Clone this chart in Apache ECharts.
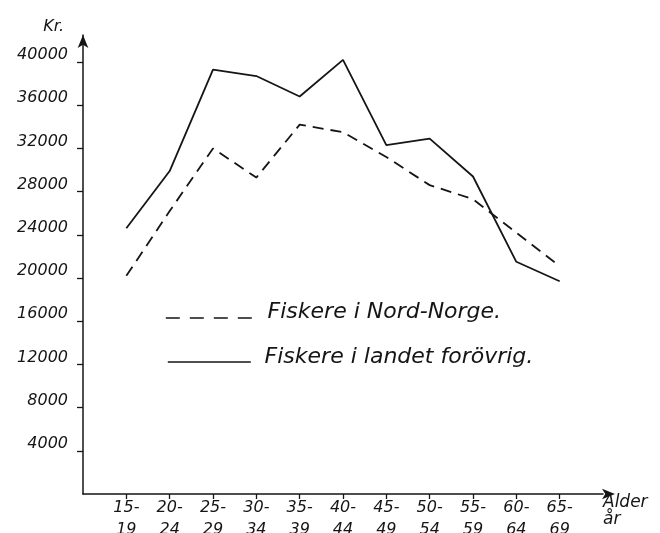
<!DOCTYPE html>
<html>
<head>
    <meta charset="utf-8">
    <script src="https://cdn.jsdelivr.net/npm/echarts@6/dist/echarts.min.js"></script>
    <style>
        body { margin: 0; background: #fff; }
    </style>
</head>
<body>
<div id="main" style="width: 660px;height:533px;"></div>
<script type="text/javascript">
    // aldersgrupper og tall (kr.)
    var ageGroups = ['15-19', '20-24', '25-29', '30-34', '35-39', '40-44', '45-49', '50-54', '55-59', '60-64', '65-69'];
    var nordNorge = [20200, 26200, 32000, 29300, 34200, 33500, 31200, 28600, 27300, 24200, 21100];
    var landetForovrig = [24600, 29900, 39300, 38700, 36800, 40200, 32300, 32900, 29400, 21500, 19700];
    var yTicks = [4000, 8000, 12000, 16000, 20000, 24000, 28000, 32000, 36000, 40000];

    var font = 'DejaVu Sans';
    var ink = '#151515';
    var nameNord = 'Fiskere i Nord-Norge.';
    var nameLandet = 'Fiskere i landet forövrig.';

    var myChart = echarts.init(document.getElementById('main'));

    function pairs(vals) {
        return ageGroups.map(function (a, i) { return [a, vals[i]]; });
    }

    // legenden tegnes i to deler: strek og tekst hver for seg
    function iconLegend(name, left, top, width, dash) {
        return {
            data: [name], left: left, top: top, padding: 0,
            itemWidth: width, itemHeight: 14,
            formatter: function () { return ''; },
            itemStyle: { opacity: 0 },
            lineStyle: { type: dash || 'solid', width: 1.6, color: ink }
        };
    }
    function textLegend(name, left, top) {
        return {
            data: [name], left: left, top: top, padding: 0,
            itemWidth: 0, itemHeight: 14,
            itemStyle: { opacity: 0 },
            lineStyle: { opacity: 0 },
            textStyle: { fontFamily: font, fontStyle: 'italic', fontSize: 22, color: ink }
        };
    }

    var option = {
        backgroundColor: '#fff',
        animation: false,
        grid: { left: 83, right: 57, top: 35, bottom: 39, outerBoundsMode: 'none' },
        legend: [
            iconLegend(nameNord, 165, 311, 93, [14, 10]),
            textLegend(nameNord, 257, 301),
            iconLegend(nameLandet, 167, 355, 83),
            textLegend(nameLandet, 254, 346)
        ],
        xAxis: {
            type: 'category',
            boundaryGap: false,
            data: [''].concat(ageGroups, ['']),
            name: 'Alder\når',
            nameLocation: 'end',
            nameGap: 0,
            nameTextStyle: { fontFamily: font, fontStyle: 'italic', fontSize: 17, color: ink, align: 'left', verticalAlign: 'top', lineHeight: 17, padding: [0, 0, 0, 0] },
            axisLine: { symbol: ['none', 'arrow'], symbolSize: [8, 13], symbolOffset: [0, 12], lineStyle: { color: ink, width: 1.5 } },
            axisTick: {
                length: 5,
                interval: function (i) { return i >= 1 && i <= ageGroups.length; },
                lineStyle: { color: ink, width: 1.3 }
            },
            axisLabel: {
                interval: 0,
                margin: 3,
                fontFamily: font, fontStyle: 'italic', fontSize: 16, color: ink, lineHeight: 22,
                formatter: function (v) { return v ? v.replace('-', '-\n') : ''; }
            },
            splitLine: { show: false }
        },
        yAxis: {
            type: 'value',
            min: 0,
            max: 42500,
            name: 'Kr.',
            nameLocation: 'end',
            nameGap: 0,
            nameTextStyle: { fontFamily: font, fontStyle: 'italic', fontSize: 16, color: ink, align: 'right', verticalAlign: 'bottom', padding: [0, 19, 0, 0] },
            axisLine: { show: true, symbol: ['none', 'arrow'], symbolSize: [8, 13], lineStyle: { color: ink, width: 1.5 } },
            axisTick: { show: true, customValues: yTicks, length: 6, lineStyle: { color: ink, width: 1.3 } },
            axisLabel: {
                customValues: yTicks,
                margin: 15,
                verticalAlign: 'bottom',
                lineHeight: 14,
                fontFamily: font, fontStyle: 'italic', fontSize: 16, color: ink,
                formatter: function (v) { return String(v); }
            },
            splitLine: { show: false }
        },
        series: [
            {
                name: nameNord,
                type: 'line',
                symbol: 'none',
                data: pairs(nordNorge),
                lineStyle: { type: [11, 7], width: 1.8, color: ink },
                itemStyle: { color: ink }
            },
            {
                name: nameLandet,
                type: 'line',
                symbol: 'none',
                data: pairs(landetForovrig),
                lineStyle: { width: 1.8, color: ink },
                itemStyle: { color: ink }
            }
        ]
    };

    myChart.setOption(option);
</script>
</body>
</html>
